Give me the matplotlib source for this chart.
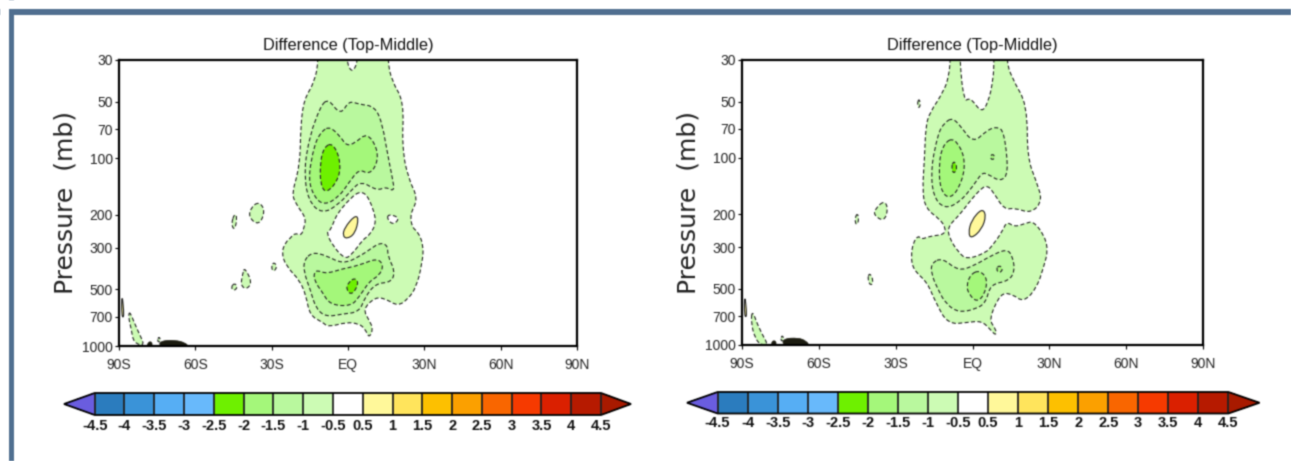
import numpy as np
import matplotlib
matplotlib.use('Agg')
import matplotlib.pyplot as plt
from matplotlib.path import Path
from matplotlib.patches import PathPatch, Rectangle
from matplotlib.colors import ListedColormap, BoundaryNorm
from matplotlib.cm import ScalarMappable

W, H = 1291, 461
NARROW = ['Liberation Sans', 'DejaVu Sans']

#============================================================
# axis and colorbar values
#============================================================
LAT_TICKS = [-90, -60, -30, 0, 30, 60, 90]
LAT_LABELS = ['90S', '60S', '30S', 'EQ', '30N', '60N', '90N']
P_TICKS = [30, 50, 70, 100, 200, 300, 500, 700, 1000]
LEVELS = [-4.5, -4, -3.5, -3, -2.5, -2, -1.5, -1, -0.5, 0.5, 1, 1.5, 2, 2.5, 3, 3.5, 4, 4.5]
LEVEL_LABELS = ['-4.5', '-4', '-3.5', '-3', '-2.5', '-2', '-1.5', '-1', '-0.5', '0.5',
                '1', '1.5', '2', '2.5', '3', '3.5', '4', '4.5']
BAR_COLORS = ['#6a5de0', '#2b7dbe', '#3a93d8', '#56aef5', '#68b9fc', '#6ef000', '#a4f77a',
              '#b9f89e', '#ccfbb4', '#ffffff', '#fff89a', '#ffe45c', '#fdc000', '#fca000',
              '#f96600', '#f63a00', '#da2000', '#b61a00', '#a81a00']

#============================================================
# contours, (lat, pressure)
#============================================================
# left panel
L_M05 = [(-11.5, 22), (-11.7, 30), (-13, 38.7), (-17.3, 48.5), (-18.6, 66), (-18.9, 108), (-22.1, 153),
         (-20.5, 175), (-16.5, 207), (-17.3, 235), (-18.4, 258), (-21, 250), (-22.6, 266), (-24.5, 280),
         (-26.1, 316), (-24.5, 372), (-18.9, 447), (-16.5, 538), (-14.9, 688), (-10.1, 746), (-7.7, 793),
         (-0.5, 746), (4.3, 762), (6.7, 808), (8.3, 909), (9.9, 808), (8.3, 730), (5.9, 634), (10.7, 549),
         (14.8, 561), (19.6, 613), (23.6, 561), (26.8, 486), (29.2, 357), (29.7, 291), (27.6, 247),
         (25.2, 234), (24.4, 198), (27.6, 163), (23.6, 127), (21.2, 84), (22, 49.4), (17.2, 38.7),
         (15.6, 30), (15.6, 22), (4.3, 22), (3.8, 30), (2.4, 34), (0.8, 34), (-0.5, 30), (-0.5, 22)]
L_M05_A = [(-44.6, 196), (-43.5, 207), (-44.6, 243), (-45.9, 224)]
L_M05_B = [(-35, 170), (-32.5, 190), (-35, 228), (-39, 207), (-38.2, 183)]
L_M05_C = [(-40.6, 380), (-37.7, 457), (-39.8, 500), (-42.2, 476), (-41.4, 412)]
L_M05_D = [(-44.6, 461), (-43.3, 486), (-44.9, 510), (-46, 486)]
L_M05_E = [(-29, 357), (-27.8, 380), (-29.4, 404), (-30.2, 375)]
L_M10_UP = [(-7.7, 48), (-2.9, 59), (0.3, 49.4), (4.3, 51.6), (10.7, 53), (13.6, 66), (15.6, 95), (17.2, 122),
            (18.4, 151), (14.8, 142), (11.5, 149), (5.1, 132), (1.1, 149), (-3.7, 176), (-10.1, 198),
            (-15.7, 168), (-17.3, 112), (-14.9, 74), (-10.9, 53)]
L_M15_UP = [(-6.9, 68), (-2.9, 77), (-0.5, 86), (2.7, 83), (7.5, 73), (11.5, 88), (11.5, 107), (8.3, 122),
            (4.3, 114), (0.3, 135), (-3.7, 161), (-9.3, 178), (-13.3, 161), (-15.7, 127), (-13.3, 84),
            (-10.1, 71)]
L_M20_UP = [(-6.1, 83), (-3.2, 99), (-3.2, 126), (-8.5, 155), (-10.9, 137), (-10.9, 103), (-9.3, 87)]
L_M10_LOW = [(-14.1, 316), (-8.5, 330), (-2.1, 365), (4.3, 336), (12.3, 280), (15.6, 291), (15.6, 330),
             (18.4, 396), (17.2, 457), (10.7, 465), (6.7, 549), (4.3, 660), (-2.1, 675), (-8.5, 700),
             (-12.5, 634), (-14.9, 496), (-17.3, 404), (-17.3, 350)]
L_M15_LOW = [(-11.7, 396), (-8.5, 412), (-2.1, 388), (4.3, 372), (11.5, 340), (14, 372), (12.3, 421),
             (8.3, 453), (4.3, 549), (1.1, 613), (-6.9, 604), (-10.1, 517), (-13.3, 447), (-13.3, 404)]
L_M20_LOW = [(2.7, 433), (4.3, 465), (1.4, 538), (-0.8, 496), (0.3, 457)]
L_HOLE = [(5.1, 149), (8.3, 162), (11.5, 216), (8.3, 259), (5.9, 270), (1.1, 330), (-1.3, 343), (-6.1, 291),
          (-8.5, 247), (-6.9, 243), (-4.5, 198), (1.1, 162)]
L_HOLE_SMALL = [(15.6, 198), (20.4, 207), (18, 226), (15.6, 214)]
L_P05 = [(2.4, 203), (4.3, 207), (2.7, 253), (-0.5, 269), (-2.1, 258), (-1.3, 234)]
L_POLE_P05 = [(-88.9, 500), (-87.9, 700), (-89, 700)]
L_POLE_M05 = [(-85.8, 647), (-83, 808), (-79.6, 1000), (-84.2, 965), (-85.2, 808), (-86.3, 700)]
L_POLE_M05B = [(-74.3, 880), (-73.5, 950), (-75, 950)]
L_DARK = [[(-79, 1010), (-78.5, 950), (-77, 950), (-77, 1010)],
          [(-74, 1010), (-74, 940), (-68, 930), (-64, 960), (-62.5, 1010)],
          [(-25, 1010), (-21, 985), (-17.5, 1010)],
          [(17, 1010), (19, 990), (21, 1010)]]

# right panel
R_M05 = [(-8.6, 22), (-8.6, 30), (-9.4, 37), (-11, 43.3), (-16.7, 57), (-18.3, 68), (-18.7, 98), (-19.6, 148),
         (-18.3, 186), (-12.7, 213), (-10.5, 236), (-11, 257), (-16.7, 262), (-19.9, 273), (-21.2, 260),
         (-23.2, 284), (-24, 335), (-23.2, 394), (-17.5, 464), (-14.3, 594), (-9.4, 775), (-2.1, 758),
         (3.6, 743), (6.9, 824), (9.2, 893), (9.2, 824), (6.3, 727), (10.9, 525), (15.7, 536), (19.8, 589),
         (24.7, 504), (27.9, 379), (29.5, 308), (27.9, 257), (23.8, 218), (20.6, 224), (16.5, 234),
         (13.3, 219), (11.7, 246), (7.6, 296), (5.2, 321), (-2.1, 349), (-5.4, 321), (-9.4, 262), (-9.4, 231),
         (-5.4, 204), (-0.5, 166), (5.2, 137), (8.4, 154), (12.5, 189), (16.5, 185), (23, 198), (27.4, 168),
         (24.7, 131), (21.4, 98), (21.4, 51), (15.2, 37), (13.3, 30), (13.3, 22), (8.4, 22), (8.4, 30),
         (8.1, 38), (6, 51), (3.6, 57), (0.3, 50), (-1.3, 48), (-3.2, 50), (-5, 30), (-5, 22)]
R_M05_A = [(-20.9, 48), (-20.3, 51.6), (-20.9, 54.5), (-21.6, 51.6)]
R_M05_B = [(-34.5, 169), (-32.9, 186), (-34.5, 219), (-38.6, 202), (-37.8, 186)]
R_M05_C = [(-45, 196), (-44.3, 213), (-45.3, 231), (-46, 213)]
R_M05_D = [(-40.2, 408), (-38.6, 455), (-39.7, 484), (-41, 446)]
R_M10_UP = [(-7.8, 61), (-4.5, 68), (0.3, 83), (5.2, 72), (9.2, 68), (12.5, 72), (14.1, 121), (10.9, 134),
            (6, 122), (3.6, 120), (0.3, 141), (-5.4, 174), (-11, 187), (-15.4, 160), (-16.2, 111),
            (-13.5, 74), (-11, 65)]
R_M15_UP = [(-7, 78), (-2.9, 98), (-3.7, 131), (-8.6, 168), (-12.7, 148), (-13.1, 102), (-11, 83)]
R_M20_UP = [(-7.3, 103), (-5.8, 113), (-7.3, 122), (-8.3, 113)]
R_M15_DOT = [(7.8, 95), (8.8, 99), (7.8, 103), (6.8, 99)]
R_M10_LOW = [(-11.8, 342), (-5.4, 402), (0.3, 378), (6.9, 335), (13.3, 306), (15.7, 335), (16.5, 402),
             (14.1, 455), (6.9, 474), (5.2, 594), (1.1, 644), (-5.4, 670), (-10.2, 606), (-13.5, 504),
             (-16.2, 411), (-15.9, 364)]
R_M15_LOW = [(2.8, 398), (6, 445), (4.4, 547), (1.5, 588), (-1.3, 536), (-2.4, 484), (-0.8, 419)]
R_M15_RING = [(10.4, 374), (12, 392), (10.5, 414), (9.2, 394)]
R_P05 = [(3.6, 186), (5.4, 202), (3.6, 241), (-0.5, 270), (-1.6, 252), (-0.5, 216)]
R_POLE_P05 = [(-89, 510), (-88, 705), (-89.1, 705)]
R_POLE_M05 = [(-86, 644), (-83.2, 824), (-79.6, 1000), (-82.6, 1000), (-84.8, 925), (-86.5, 758)]
R_POLE_M05B = [(-74.3, 875), (-73.5, 950), (-75, 950)]
R_DARK = [[(-78.5, 1010), (-78.3, 950), (-76.7, 950), (-76.7, 1010)],
          [(-74, 1010), (-74, 925), (-68, 915), (-65, 950), (-63.5, 1010)],
          [(-25, 1010), (-21, 985), (-17.5, 1010)],
          [(17, 1010), (19, 990), (21, 1010)]]

C_M05 = BAR_COLORS[8]
C_M10 = BAR_COLORS[7]
C_M15 = BAR_COLORS[6]
C_M20 = BAR_COLORS[5]
C_P05 = BAR_COLORS[10]

LEFT_CONTOURS = [(L_M05, C_M05, 'neg'), (L_M05_A, C_M05, 'neg'), (L_M05_B, C_M05, 'neg'), (L_M05_C, C_M05, 'neg'),
                 (L_M05_D, C_M05, 'neg'), (L_M05_E, C_M05, 'neg'), (L_POLE_M05, C_M05, 'neg'), (L_POLE_M05B, C_M05, 'neg'),
                 (L_M10_UP, C_M10, 'neg'), (L_M15_UP, C_M15, 'neg'), (L_M20_UP, C_M20, 'neg'),
                 (L_M10_LOW, C_M10, 'neg'), (L_M15_LOW, C_M15, 'neg'), (L_M20_LOW, C_M20, 'neg'),
                 (L_HOLE, 'white', 'neg'), (L_HOLE_SMALL, 'white', 'neg'),
                 (L_P05, C_P05, 'pos'), (L_POLE_P05, C_P05, 'pos')]
RIGHT_CONTOURS = [(R_M05, C_M05, 'neg'), (R_M05_A, C_M05, 'neg'), (R_M05_B, C_M05, 'neg'), (R_M05_C, C_M05, 'neg'),
                  (R_M05_D, C_M05, 'neg'), (R_POLE_M05, C_M05, 'neg'), (R_POLE_M05B, C_M05, 'neg'),
                  (R_M10_UP, C_M10, 'neg'), (R_M15_UP, C_M15, 'neg'), (R_M20_UP, C_M20, 'neg'), (R_M15_DOT, C_M15, 'neg'),
                  (R_M10_LOW, C_M10, 'neg'), (R_M15_LOW, C_M15, 'neg'), (R_M15_RING, C_M15, 'neg'),
                  (R_P05, C_P05, 'pos'), (R_POLE_P05, C_P05, 'pos')]


def axes_px(fig, x0, y0, x1, y1):
    # rectangle given in image pixels, y from the top
    return fig.add_axes([x0 / W, 1 - y1 / H, (x1 - x0) / W, (y1 - y0) / H])


def smooth_path(points):
    pts = np.array(points, dtype=float)
    nxt = np.roll(pts, -1, axis=0)
    mid = (pts + nxt) / 2
    verts = [mid[-1]]
    codes = [Path.MOVETO]
    for ctrl, m in zip(pts, mid):
        verts += [ctrl, m]
        codes += [Path.CURVE3, Path.CURVE3]
    return Path(np.array(verts), codes)


def soften(img, dpi):
    # the reference is a scaled up screenshot, so it is a bit soft
    k = np.array([0.2, 0.6, 0.2])
    out = img.copy()
    for axis in (0, 1):
        out = k[0] * np.roll(out, 1, axis=axis) + k[1] * out + k[2] * np.roll(out, -1, axis=axis)
    return out, 0, 0


def draw_panel(ax, contours, dark):
    ax.set_yscale('log')
    ax.set_xlim(-90, 90)
    ax.set_ylim(1000, 30)
    for points, color, kind in contours:
        ls = (0, (3.6, 2.2)) if kind == 'neg' else '-'
        ax.add_patch(PathPatch(smooth_path(points), facecolor=color, edgecolor='#222222', lw=0.8, ls=ls))
    for points in dark:
        ax.add_patch(PathPatch(smooth_path(points), facecolor='#1c1c10', edgecolor='#1c1c10', lw=0.5))
    ax.set_xticks(LAT_TICKS)
    ax.set_xticklabels(LAT_LABELS, family=NARROW, fontsize=10, color='#222222')
    ax.set_yticks(P_TICKS)
    ax.set_yticklabels([str(p) for p in P_TICKS], family=NARROW, fontsize=10, color='#222222')
    ax.minorticks_off()
    ax.tick_params(length=3, width=0.8, pad=1.5)
    ax.tick_params(axis='x', pad=5.5)
    for s in ax.spines.values():
        s.set_linewidth(1.6)
        s.set_zorder(10)
    ax.set_title('Difference (Top-Middle)', family=NARROW, fontsize=11.8, pad=7, color='#111111')
    ax.set_ylabel('Pressure  (mb)', family='DejaVu Sans', fontsize=18, labelpad=3, color='#222222')


def draw_bar(fig, tip0, x0, x1, tip1, y0, y1, pad):
    # the axes runs tip to tip, matplotlib fits the triangles inside it
    cax = axes_px(fig, tip0, y0, tip1, y1)
    cmap = ListedColormap(BAR_COLORS[1:-1])
    cmap.set_under(BAR_COLORS[0])
    cmap.set_over(BAR_COLORS[-1])
    norm = BoundaryNorm(LEVELS, cmap.N)
    cb = fig.colorbar(ScalarMappable(norm=norm, cmap=cmap), cax=cax, orientation='horizontal',
                      extend='both', extendfrac=((x0 - tip0) / (x1 - x0), (tip1 - x1) / (x1 - x0)),
                      spacing='uniform', drawedges=True, ticks=LEVELS)
    cb.outline.set_linewidth(1.3)
    cb.dividers.set_linewidth(1.3)
    cb.dividers.set_color('#222222')
    cb.minorticks_off()
    cb.ax.tick_params(length=0, pad=pad)
    cb.ax.set_xticklabels(LEVEL_LABELS, family=NARROW, fontsize=10.5, fontweight='bold', color='#111111')


fig = plt.figure(figsize=(W / 100, H / 100), dpi=100, facecolor='white')
fig.set_agg_filter(soften)

# blue slide frame
fig.add_artist(Rectangle((8.5 / W, 0), 5.5 / W, 1 - 9 / H, transform=fig.transFigure, facecolor='#507090', edgecolor='none'))
fig.add_artist(Rectangle((8.5 / W, 1 - 15 / H), 1 - 8.5 / W, 6 / H, transform=fig.transFigure, facecolor='#507090', edgecolor='none'))

ax1 = axes_px(fig, 119, 60, 577, 346)
draw_panel(ax1, LEFT_CONTOURS, L_DARK)
ax2 = axes_px(fig, 742, 60, 1203, 345)
draw_panel(ax2, RIGHT_CONTOURS, R_DARK)

draw_bar(fig, 64, 94.7, 601, 631, 393, 415, 3)
draw_bar(fig, 687, 717.6, 1228.4, 1259.5, 392, 413.5, 2)

fig.savefig('out.png', dpi=100)
